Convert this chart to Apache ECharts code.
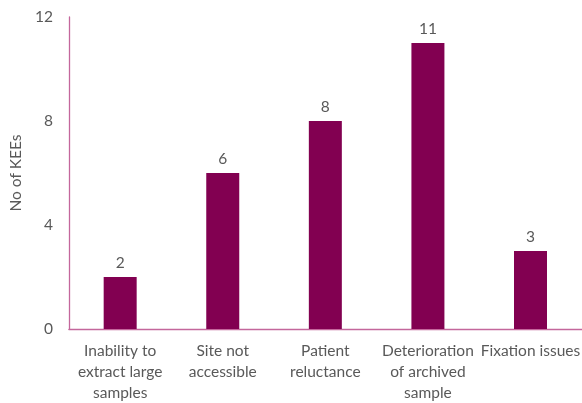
<!DOCTYPE html>
<html>
<head>
<meta charset="utf-8">
<script src="https://cdn.jsdelivr.net/npm/echarts@6/dist/echarts.min.js"></script>
<style>
  html, body { margin: 0; padding: 0; background: #fff; }
  #chart { width: 582px; height: 403px; }
</style>
</head>
<body>
<div id="chart"></div>
<script>
// KEE counts by reason
const categories = [
  'Inability to\nextract large\nsamples',
  'Site not\naccessible',
  'Patient\nreluctance',
  'Deterioration\nof archived\nsample',
  'Fixation issues'
];
const keeCounts = [2, 6, 8, 11, 3];
const yTicks = { min: 0, max: 12, interval: 4 };

const textColor = '#595959';
const axisColor = '#C4679C';
const barColor = '#820051';
const fontFamily = 'Lato, "Open Sans", sans-serif';
const fontSize = 15.5;

const chart = echarts.init(document.getElementById('chart'));
chart.setOption({
  animation: false,
  // plot area runs slightly past the right edge of the canvas
  grid: { left: 64, width: 525, top: 17, height: 315, containLabel: false },
  xAxis: {
    type: 'category',
    data: categories,
    axisLine: { lineStyle: { color: axisColor, width: 1.3 } },
    axisTick: { show: false },
    axisLabel: {
      color: textColor, fontFamily: fontFamily, fontSize: fontSize,
      lineHeight: 21, margin: 11, interval: 0
    }
  },
  yAxis: {
    type: 'value',
    min: yTicks.min, max: yTicks.max, interval: yTicks.interval,
    name: 'No of KEEs',
    nameLocation: 'middle',
    nameGap: 38,
    nameTextStyle: { color: textColor, fontFamily: fontFamily, fontSize: fontSize },
    axisLine: { show: true, lineStyle: { color: axisColor, width: 1.3 } },
    axisTick: { show: false },
    splitLine: { show: false },
    axisLabel: { color: textColor, fontFamily: fontFamily, fontSize: fontSize, margin: 16 }
  },
  series: [{
    type: 'bar',
    data: keeCounts,
    barWidth: 33,
    itemStyle: { color: barColor },
    label: {
      show: true, position: 'top', distance: 6,
      color: textColor, fontFamily: fontFamily, fontSize: fontSize
    }
  }]
});
</script>
</body>
</html>
